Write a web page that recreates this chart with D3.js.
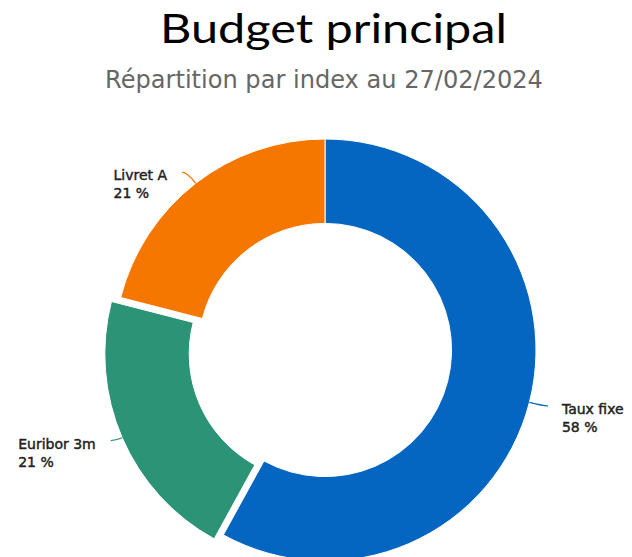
<!DOCTYPE html>
<html>
<head>
<meta charset="utf-8">
<script src="https://cdn.jsdelivr.net/npm/d3@7"></script>
<style>
  html, body { margin: 0; padding: 0; background: #ffffff; overflow: hidden; }
  svg { display: block; }
</style>
</head>
<body>
<svg id="chart" width="632" height="557"></svg>
<script>
// Share of the principal budget by interest index (%)
const categories = ["Taux fixe", "Euribor 3m", "Livret A"];
const shares = [58, 21, 21];
const sliceColors = ["#0566c1", "#2b9476", "#f57700"];
const slicedOut = [false, true, false];

const titleText = "Budget principal";
const subtitleText = "Répartition par index au 27/02/2024";

const width = 632, height = 557;
const cx = 325, cy = 350;
const outerR = 211;
const innerR = outerR * 0.6;
const slicedOffset = 10;
const labelDistance = 20;

const svg = d3.select("#chart");

// Title: fixed cap height, stretched horizontally to the wanted width
function stretchedText(text, x, y, family, size, color, targetWidth) {
  const t = svg.append("text")
    .attr("x", 0).attr("y", 0)
    .attr("text-anchor", "middle")
    .style("font-family", family)
    .style("font-size", size + "px")
    .attr("fill", color)
    .text(text);
  const w = t.node().getComputedTextLength();
  t.attr("transform", `translate(${x},${y}) scale(${(targetWidth / w).toFixed(4)},1)`);
  return t;
}
// Subtitle: sized to its measured width
function fittedText(text, x, y, family, color, targetWidth, baseSize) {
  const t = svg.append("text")
    .attr("x", x).attr("y", y)
    .attr("text-anchor", "middle")
    .style("font-family", family)
    .style("font-size", baseSize + "px")
    .attr("fill", color)
    .text(text);
  const w = t.node().getComputedTextLength();
  t.style("font-size", (baseSize * targetWidth / w).toFixed(2) + "px");
  return t;
}
stretchedText(titleText, 333.5, 43, "Lato, 'Open Sans', sans-serif", 40.5, "#000000", 347);
fittedText(subtitleText, 324, 88, "'DejaVu Sans', sans-serif", "#666666", 438, 18);

// Donut
const data = categories.map((name, i) => ({
  name, value: shares[i], color: sliceColors[i], sliced: slicedOut[i]
}));

const pie = d3.pie().sort(null).value(d => d.value)
  .startAngle(0).endAngle(2 * Math.PI);
const arcs = pie(data);

const arc = d3.arc().innerRadius(innerR).outerRadius(outerR);

const g = svg.append("g").attr("transform", `translate(${cx},${cy})`);

const dirOf = a => [Math.sin(a), -Math.cos(a)];

g.selectAll("path.slice")
  .data(arcs)
  .join("path")
  .attr("class", "slice")
  .attr("d", arc)
  .attr("fill", d => d.data.color)
  .attr("stroke", "#ffffff")
  .attr("stroke-width", 1)
  .attr("stroke-linejoin", "round")
  .attr("transform", d => {
    if (!d.data.sliced) return null;
    const m = (d.startAngle + d.endAngle) / 2;
    const [dx, dy] = dirOf(m);
    return `translate(${dx * slicedOffset},${dy * slicedOffset})`;
  });

// Data labels: a radial stub from the slice edge, bending into a short
// horizontal run, then the two-line label beside it
const labelFont = "'DejaVu Sans', Verdana, sans-serif";
const labels = g.append("g");
arcs.forEach(d => {
  const m = (d.startAngle + d.endAngle) / 2;
  const [dx, dy] = dirOf(m);
  const off = d.data.sliced ? slicedOffset : 0;
  const right = dx >= 0;
  const sign = right ? 1 : -1;
  const start = [dx * (outerR + off), dy * (outerR + off)];
  const stub = (labelDistance - off) * 0.7;
  const elbow = [start[0] + dx * stub, start[1] + dy * stub];
  const end = [elbow[0] + sign * 5, elbow[1]];

  labels.append("path")
    .attr("d", `M${start[0]},${start[1]}Q${elbow[0]},${elbow[1]} ${end[0]},${end[1]}`)
    .attr("fill", "none")
    .attr("stroke", d.data.color)
    .attr("stroke-width", 1.3);

  const t = labels.append("text")
    .attr("y", end[1] + 8)
    .style("font-family", labelFont)
    .style("font-size", "14px")
    .attr("fill", "#222222")
    .attr("stroke", "#222222")
    .attr("stroke-width", 0.45);
  const l1 = t.append("tspan").text(d.data.name);
  const l2 = t.append("tspan").attr("dy", 18).text(`${d.data.value} %`);

  // left-aligned block; on the left side its right edge sits by the connector
  const blockW = Math.max(l1.node().getComputedTextLength(), l2.node().getComputedTextLength());
  const x0 = right ? end[0] + 14 : end[0] - 15 - blockW;
  l1.attr("x", x0);
  l2.attr("x", x0);
});
</script>
</body>
</html>
